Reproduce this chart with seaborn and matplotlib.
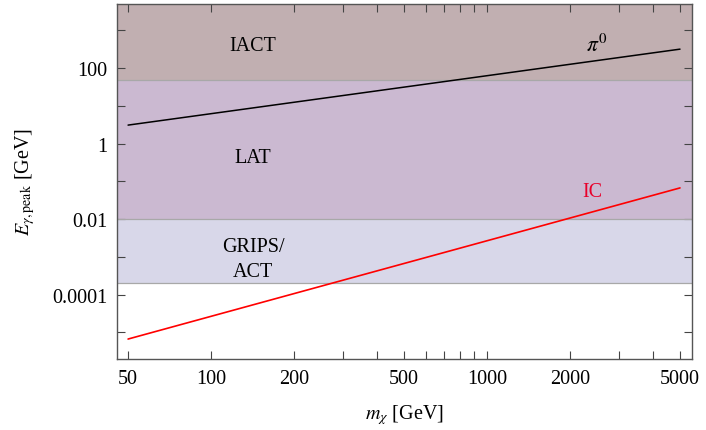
import numpy as np
import pandas as pd
import matplotlib.pyplot as plt
import seaborn as sns
from matplotlib.ticker import FixedLocator, NullFormatter

# data
mass = [50, 5000]                 # m_chi [GeV]
e_pi0 = [3.1, 320]                # pi0 peak energy [GeV]
e_ic = [6.6e-6, 0.067]            # IC peak energy [GeV]

band_names = ["IACT", "LAT", "GRIPS/\nACT"]
band_low = [50, 0.01, 2e-4]
band_high = [1e5, 50, 0.01]
band_colors = ["#c1afb1", "#cbb9d1", "#d8d7e9"]

x_ticks = [50, 100, 200, 500, 1000, 2000, 5000]
x_minor = [300, 400, 600, 700, 800, 900, 3000, 4000]
y_ticks = [1e-4, 1e-2, 1, 100]
y_tick_labels = ["0.0001", "0.01", "1", "100"]
y_minor = [1e-5, 1e-3, 0.1, 10, 1000]

sns.set_style("white")
plt.rcParams["font.family"] = ["Liberation Serif", "DejaVu Serif"]
plt.rcParams["mathtext.fontset"] = "stix"
plt.rcParams["text.color"] = "black"
plt.rcParams["axes.labelcolor"] = "black"
plt.rcParams["xtick.labelcolor"] = "black"
plt.rcParams["ytick.labelcolor"] = "black"

fig = plt.figure(figsize=(7.06, 4.31), dpi=100)
ax = fig.add_axes([0.1654, 0.1647, 0.8146, 0.8244])

for lo, hi, c in zip(band_low, band_high, band_colors):
    ax.axhspan(lo, hi, color=c, lw=0, zorder=0)
for b in [50, 0.01, 2e-4]:
    ax.axhline(b, color="#a8a8a8", lw=0.9, zorder=1)

df = pd.DataFrame({"m": mass, "pi0": e_pi0, "ic": e_ic})
sns.lineplot(data=df, x="m", y="pi0", color="black", lw=1.1, ax=ax, zorder=3)
sns.lineplot(data=df, x="m", y="ic", color="#ff0000", lw=1.2, ax=ax, zorder=3)

ax.set_xscale("log")
ax.set_yscale("log")
ax.set_xlim(10 ** 1.658, 10 ** 3.742)
ax.set_ylim(10 ** -5.71, 10 ** 3.71)

fs = 14.5
ax.text(142, 410, "IACT", ha="center", va="center", fontsize=fs)
ax.text(142, 0.42, "LAT", ha="center", va="center", fontsize=fs)
ax.text(142, 10 ** -3.05, "GRIPS/\nACT", ha="center", va="center",
        fontsize=fs, linespacing=1.45)
ax.text(2500, 430, r"$\pi^0$", ha="center", va="center", fontsize=fs + 1)
ax.text(2400, 0.053, "IC", ha="center", va="center", fontsize=fs, color="#e8002a")

ax.xaxis.set_major_locator(FixedLocator(x_ticks))
ax.xaxis.set_minor_locator(FixedLocator(x_minor))
ax.set_xticklabels([str(t) for t in x_ticks])
ax.xaxis.set_minor_formatter(NullFormatter())
ax.yaxis.set_major_locator(FixedLocator(y_ticks))
ax.yaxis.set_minor_locator(FixedLocator(y_minor))
ax.set_yticklabels(y_tick_labels)
ax.yaxis.set_minor_formatter(NullFormatter())

for which in ["major", "minor"]:
    ax.tick_params(which=which, direction="in", length=6, width=0.8,
                   color="#444444", top=True, right=True, bottom=True, left=True,
                   labelsize=fs, pad=7)

for s in ax.spines.values():
    s.set_color("#555555")
    s.set_linewidth(1.0)

ax.set_xlabel(r"$m_\chi$ [GeV]", fontsize=fs, labelpad=10)
ax.set_ylabel(r"$E_{\gamma,\mathrm{peak}}$ [GeV]", fontsize=fs, labelpad=11)
ax.grid(False)

fig.savefig("out.png", dpi=100)
